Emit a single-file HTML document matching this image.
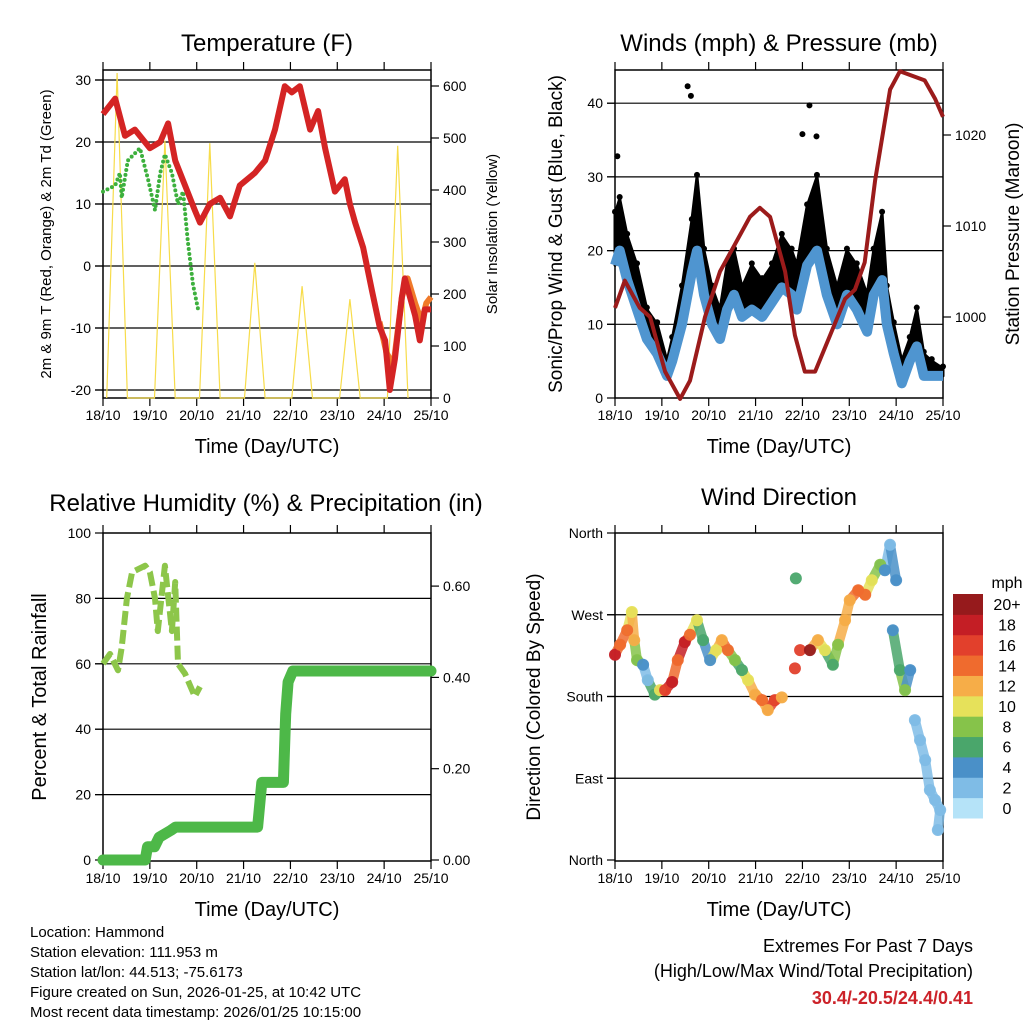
<!DOCTYPE html>
<html><head><meta charset="utf-8">
<style>
html,body{margin:0;padding:0;background:#fff;}
svg{display:block;font-family:"Liberation Sans",sans-serif;}
</style></head>
<body>
<svg id="root" width="1024" height="1024" viewBox="0 0 1024 1024" xmlns="http://www.w3.org/2000/svg">
<rect width="1024" height="1024" fill="#fff"/>
<g id="layer"></g>
<g font-size="15" fill="#000">
<text x="30" y="937">Location: Hammond</text>
<text x="30" y="957">Station elevation: 111.953 m</text>
<text x="30" y="977">Station lat/lon: 44.513; -75.6173</text>
<text x="30" y="997">Figure created on Sun, 2026-01-25, at 10:42 UTC</text>
<text x="30" y="1017">Most recent data timestamp: 2026/01/25 10:15:00</text>
<text x="973" y="952" text-anchor="end" font-size="18">Extremes For Past 7 Days</text>
<text x="973" y="977" text-anchor="end" font-size="18">(High/Low/Max Wind/Total Precipitation)</text>
<text x="973" y="1004" text-anchor="end" font-size="18" font-weight="bold" fill="#cc2229">30.4/-20.5/24.4/0.41</text>
</g>
</svg>
<script>
// ---------- data ----------
const dayLabels=["18/10","19/10","20/10","21/10","22/10","23/10","24/10","25/10"];
// Temperature panel
const tempT=[0,.26,.47,.68,1.0,1.22,1.39,1.54,1.75,1.96,2.07,2.28,2.5,2.71,2.92,3.24,3.46,3.67,3.88,4.03,4.2,4.42,4.59,4.74,4.95,5.16,5.27,5.38,5.55,5.74,5.91,6.02,6.12,6.23,6.38,6.44,6.66,6.76,6.87,7];
const tempV=[24.5,27,21,22,19,20,23,17,13,9,7,10,11,8,13,15,17,22,29,28,29,22,25,19,12,14,10,7,3,-4,-10,-12,-20,-15,-5,-2,-8,-12,-7,-7];
const temp9T=[5.9,6.05,6.2,6.38,6.5,6.66,6.8,6.9,7];
const temp9V=[-9,-14,-16,-5,-2,-6,-9,-6,-5];
const tdT=[0,.26,.36,.4,.53,.79,.96,1.11,1.22,1.32,1.47,1.6,1.71,1.81,1.92,2.03];
const tdV=[12,13,15,11,17,19,14,9,15,18,15,10,12,4,-3,-7];
const solarT=[0.08,0.3,0.52, 1.1,1.32,1.54, 2.06,2.28,2.5, 3.02,3.24,3.46, 4.03,4.25,4.47, 5.05,5.27,5.49, 6.07,6.29,6.51];
const solarV=[0,625,0, 0,495,0, 0,490,0, 0,260,0, 0,215,0, 0,190,0, 0,485,0];
const tempTicks=[-20,-10,0,10,20,30];
const solarTicks=[0,100,200,300,400,500,600];
// Winds panel
const windT=[0,.1,.26,.47,.68,.9,1.11,1.22,1.43,1.64,1.75,1.9,2.07,2.24,2.39,2.54,2.71,2.92,3.14,3.35,3.56,3.77,3.88,4.1,4.31,4.52,4.74,4.95,5.16,5.38,5.52,5.7,5.8,5.95,6.12,6.29,6.44,6.59,6.76,7];
const gustV=[25,27,22,18,12,10,5,8,15,24,30,20,15,12,18,20,15,18,16,18,22,20,18,26,30,20,15,20,18,14,20,25,15,10,5,8,12,6,5,4];
const windV=[18,20,16,12,8,6,3,5,10,17,20,14,10,8,12,14,11,12,11,13,15,14,12,18,20,14,10,14,12,9,14,16,10,6,2,5,7,3,3,3];
const gustOutT=[1.55,1.62,4.15,4.3,0.05,4.0];
const gustOutV=[42.3,41,39.7,35.5,32.8,35.8];
const presT=[0,.21,.53,.75,1.07,1.39,1.6,1.92,2.24,2.56,2.88,3.09,3.31,3.63,3.84,4.05,4.27,4.59,4.91,5.12,5.33,5.55,5.87,6.08,6.61,6.83,7];
const presV=[1001,1004,1001,1000,994,991,993,1000,1005,1008,1011,1012,1011,1005,998,994,994,998,1002,1003,1006,1015,1025,1027,1026,1024,1022];
const windTicks=[0,10,20,30,40];
const presTicks=[1000,1010,1020];
// RH panel
const rhT=[0,.15,.32,.4,.51,.62,.9,1.0,1.11,1.17,1.32,1.47,1.54,1.6,1.75,1.96,2.07];
const rhV=[60,63,58,65,80,88,90,88,80,70,90,70,85,60,57,50,53];
const prT=[0,.9,.95,1.1,1.2,1.45,1.55,3.3,3.39,3.85,3.9,3.95,4.05,7];
const prV=[0,0,.029,.029,.05,.065,.072,.072,.17,.17,.32,.39,.414,.414];
const rhTicks=[0,20,40,60,80,100];
const prTicks=[0,0.2,0.4,0.6];
// Wind direction panel
const dirT=[0,.11,.26,.36,.41,.47,.6,.7,.85,.96,1.07,1.22,1.34,1.49,1.6,1.75,1.88,2.03,2.16,2.28,2.41,2.56,2.71,2.84,2.99,3.14,3.26,3.41,3.56,3.84,3.86,3.95,4.16,4.33,4.48,4.65,4.76,4.91,5.01,5.19,5.34,5.48,5.66,5.76,5.87,6.0,5.93,6.08,6.19,6.3,6.4,6.51,6.62,6.72,6.83,6.94,6.89];
const dirV=[226,237,253,273,242,220,215,198,182,187,187,196,220,240,248,264,242,220,231,242,231,220,209,198,182,176,165,176,179,211,310,231,231,242,231,215,237,264,286,297,292,308,325,319,347,308,253,209,187,209,154,132,110,77,66,55,33];
const dirS=[18,14,14,10,12,8,4,2,6,10,16,18,14,18,14,10,6,4,10,12,14,8,6,10,12,14,12,16,12,16,6,16,20,12,10,6,8,12,12,14,14,10,8,4,2,4,4,6,8,4,2,2,2,2,2,2,2];
const dirTicks=["North","East","South","West","North"];
const speedLabels=["0","2","4","6","8","10","12","14","16","18","20+"];
const speedColors=["#b5e3f8","#7fbce6","#4a90c8","#4aa66b","#86c34a","#e6e15a","#f6ad48","#ef6b2e","#e2402c","#c41e25","#961a1c"];

// ---------- helpers ----------
const NS="http://www.w3.org/2000/svg";
const layer=document.getElementById('layer');
function mk(tag,attrs,parent){const e=document.createElementNS(NS,tag);for(const k in attrs)e.setAttribute(k,attrs[k]);(parent||layer).appendChild(e);return e;}
function txt(x,y,s,size,anchor,parent,rot){const e=mk('text',{x:x,y:y,'font-size':size,'text-anchor':anchor||'middle',fill:'#000'},parent);if(rot)e.setAttribute('transform','rotate(-90 '+x+' '+y+')');e.textContent=s;return e;}
function path(xs,ys,fx,fy){return xs.map((t,i)=>(i?'L':'M')+fx(t).toFixed(1)+','+fy(ys[i]).toFixed(1)).join('');}

const W=328,H=328,DAY=W/7;
function panel(name){const g=mk('g',{});return g;}
function frame(g,x0,y0,gridYs){
  gridYs.forEach(y=>{const l=mk('line',{x1:x0-8,x2:x0+W,y1:y,y2:y,stroke:'#000','stroke-width':1.2},g);});
  const r=mk('rect',{x:x0,y:y0,width:W,height:H,fill:'none',stroke:'#000','stroke-width':1.5},g);
  
  dayLabels.forEach((d,i)=>{const x=x0+i*DAY;
    mk('line',{x1:x,x2:x,y1:y0+H,y2:y0+H+8,stroke:'#000','stroke-width':1.2},g);
    mk('line',{x1:x,x2:x,y1:y0,y2:y0-8,stroke:'#000','stroke-width':1.2},g);
    const t=txt(x,y0+H+22,d,14,'middle',g);});
  const xt=txt(x0+W/2,y0+H+55,'Time (Day/UTC)',20,'middle',g);
}
function leftTicks(g,x0,vals,fy,fmt){vals.forEach(v=>{const y=fy(v);mk('line',{x1:x0-8,x2:x0,y1:y,y2:y,stroke:'#000','stroke-width':1.2},g);const t=txt(x0-12,y+5,fmt?fmt(v):String(v),14,'end',g);});}
function rightTicks(g,x1,vals,fy,fmt){vals.forEach(v=>{const y=fy(v);mk('line',{x1:x1,x2:x1+8,y1:y,y2:y,stroke:'#000','stroke-width':1.2},g);const t=txt(x1+12,y+5,fmt?fmt(v):String(v),14,'start',g);});}

// ---------- Panel 1: Temperature ----------
(function(){
  const x0=103,y0=70;
  const g=panel('temperature-panel');
  const fx=t=>x0+t*DAY, fy=v=>266-v*6.2, fs=s=>398-s*0.52;
  frame(g,x0,y0,tempTicks.map(fy));
  leftTicks(g,x0,tempTicks,fy);
  rightTicks(g,x0+W,solarTicks,fs);
  let e=mk('path',{d:path(solarT,solarV,fx,fs),fill:'none',stroke:'#f7dc4a','stroke-width':1.2},g);
  
  e=mk('path',{d:path(tdT,tdV,fx,fy),fill:'none',stroke:'#3db03d','stroke-width':4,'stroke-linecap':'round','stroke-dasharray':'0 5'},g);
  
  e=mk('path',{d:path(temp9T,temp9V,fx,fy),fill:'none',stroke:'#f07a2a','stroke-width':6,'stroke-linejoin':'round'},g);
  
  e=mk('path',{d:path(tempT,tempV,fx,fy),fill:'none',stroke:'#d42424','stroke-width':6,'stroke-linejoin':'round'},g);
  
  e=txt(267,51,'Temperature (F)',24,'middle',g);
  e=txt(51,234,'2m & 9m T (Red, Orange) & 2m Td (Green)',15,'middle',g,true);
  e=txt(497,234,'Solar Insolation (Yellow)',15,'middle',g,true);
})();

// ---------- Panel 2: Winds ----------
(function(){
  const x0=615,y0=70;
  const g=panel('winds-panel');
  const fx=t=>x0+t*DAY, fy=v=>398-v*7.37, fp=p=>317-(p-1000)*9.1;
  frame(g,x0,y0,windTicks.filter(v=>v>0).map(fy));
  leftTicks(g,x0,windTicks,fy);
  rightTicks(g,x0+W,presTicks,fp);
  const up=windT.map((t,i)=>fx(t).toFixed(1)+','+fy(gustV[i]).toFixed(1));
  const dn=windT.map((t,i)=>fx(t).toFixed(1)+','+fy(windV[i]).toFixed(1)).reverse();
  let e=mk('polygon',{points:up.concat(dn).join(' '),fill:'#000',stroke:'#000','stroke-width':3,'stroke-linejoin':'round'},g);
  
  windT.forEach((t,i)=>{const c=mk('circle',{cx:fx(t),cy:fy(gustV[i])-2,r:3,fill:'#000'},g);});
  gustOutT.forEach((t,i)=>{const c=mk('circle',{cx:fx(t),cy:fy(gustOutV[i]),r:3,fill:'#000'},g);});
  e=mk('path',{d:path(windT,windV,fx,fy),fill:'none',stroke:'#4f95d0','stroke-width':10,'stroke-linejoin':'round'},g);
  
  e=mk('path',{d:path(presT,presV,fx,fp),fill:'none',stroke:'#9b1b1b','stroke-width':4,'stroke-linejoin':'round'},g);
  
  e=txt(779,51,'Winds (mph) & Pressure (mb)',24,'middle',g);
  e=txt(562,234,'Sonic/Prop Wind & Gust (Blue, Black)',19,'middle',g,true);
  e=txt(1019,234,'Station Pressure (Maroon)',19,'middle',g,true);
})();

// ---------- Panel 3: RH & Precip ----------
(function(){
  const x0=103,y0=533;
  const g=panel('humidity-precip-panel');
  const fx=t=>x0+t*DAY, fy=v=>860-v*3.27, fp=p=>860-p*456.5;
  frame(g,x0,y0,[20,40,60,80].map(fy));
  leftTicks(g,x0,rhTicks,fy);
  rightTicks(g,x0+W,prTicks,fp,v=>v.toFixed(2));
  let e=mk('path',{d:path(prT,prV,fx,fp),fill:'none',stroke:'#4db848','stroke-width':11,'stroke-linejoin':'round','stroke-linecap':'round'},g);
  
  e=mk('path',{d:path(rhT,rhV,fx,fy),fill:'none',stroke:'#8dc64a','stroke-width':6,'stroke-dasharray':'14 5','stroke-linejoin':'round'},g);
  
  e=txt(266,511,'Relative Humidity (%) & Precipitation (in)',24,'middle',g);
  e=txt(46,697,'Percent & Total Rainfall',20,'middle',g,true);
})();

// ---------- Panel 4: Wind direction ----------
(function(){
  const x0=615,y0=533;
  const g=panel('wind-direction-panel');
  const fx=t=>x0+t*DAY, fy=d=>860-d*327/360;
  frame(g,x0,y0,[90,180,270].map(fy));
  leftTicks(g,x0,[0,90,180,270,360],fy,v=>dirTicks[v/90]);
  const col=s=>speedColors[Math.min(10,Math.max(0,Math.round(s/2)))];
  for(let i=1;i<dirT.length;i++){
    if(Math.abs(dirT[i]-dirT[i-1])<0.2 && Math.abs(dirV[i]-dirV[i-1])<45){
      const l=mk('line',{x1:fx(dirT[i-1]),y1:fy(dirV[i-1]),x2:fx(dirT[i]),y2:fy(dirV[i]),stroke:col(dirS[i]),'stroke-width':10,'stroke-linecap':'round','stroke-opacity':0.85},g);
      
    }
  }
  dirT.forEach((t,i)=>{
    const c=mk('circle',{cx:fx(t),cy:fy(dirV[i]),r:6,fill:col(dirS[i]),'fill-opacity':0.95},g);
    });
  let e=txt(779,505,'Wind Direction',24,'middle',g);
  e=txt(540,697,'Direction (Colored By Speed)',19,'middle',g,true);
  const cb=mk('g',{},g);
  const bh=224/11;
  speedColors.forEach((c,i)=>{const y=818-(i+1)*bh;
    const r=mk('rect',{x:953,y:y,width:30,height:bh+0.5,fill:c},cb);
    const t=txt(1007,y+bh/2+6,speedLabels[i],16,'middle',cb);});
  e=txt(1007,588,'mph',16,'middle',cb);
})();
</script>
</body></html>
